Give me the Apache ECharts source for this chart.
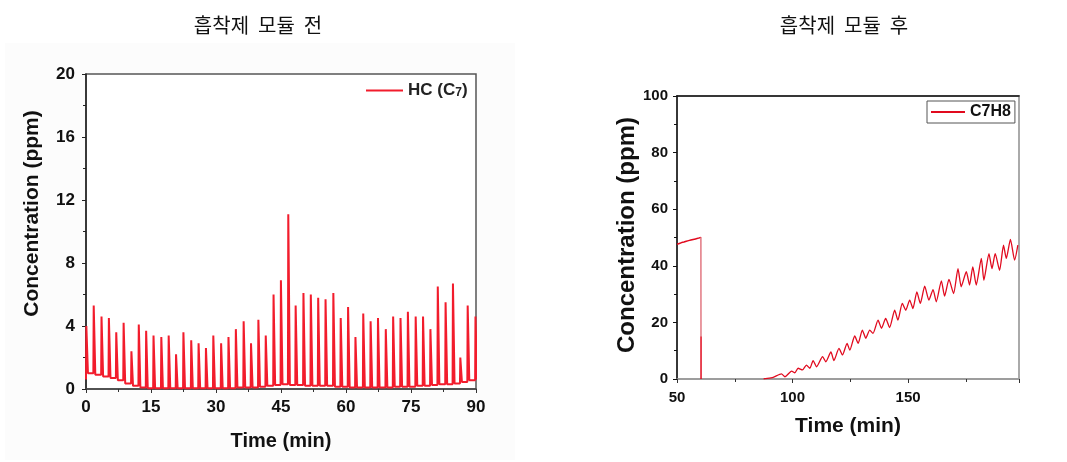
<!DOCTYPE html>
<html>
<head>
<meta charset="utf-8">
<title>흡착제 모듈 전/후</title>
<script src="https://cdn.jsdelivr.net/npm/echarts@6/dist/echarts.min.js"></script>
<style>
  html, body { margin: 0; padding: 0; background: #fff; }
  #chart { width: 1067px; height: 462px; }
</style>
</head>
<body>
<div id="chart"></div>
<script>
// 왼쪽: 흡착제 모듈 전 (HC C7), 피크 시각 / 피크 높이 / 피크 후 기저값
const leftPeakTimes = [
  0, 1.7, 3.5, 5.2, 6.9,
  8.6, 10.4, 12.1, 13.8, 15.5,
  17.3, 19.0, 20.7, 22.4, 24.2,
  25.9, 27.6, 29.3, 31.1, 32.8,
  34.5, 36.3, 38.0, 39.7, 41.4,
  43.2, 44.9, 46.6, 48.3, 50.1,
  51.8, 53.5, 55.2, 57.0, 58.7,
  60.4, 62.1, 63.9, 65.6, 67.3,
  69.1, 70.8, 72.5, 74.2, 76.0,
  77.7, 79.4, 81.1, 82.9, 84.6,
  86.3, 88.0, 89.8
]
const leftPeakHeights = [
  4.0, 5.3, 4.6, 4.5, 3.6,
  4.2, 2.4, 4.1, 3.7, 3.4,
  3.3, 3.4, 2.2, 3.6, 3.1,
  2.9, 2.6, 3.4, 2.9, 3.3,
  3.8, 4.3, 2.9, 4.4, 3.4,
  6.0, 6.9, 11.1, 5.3, 6.1,
  6.0, 5.8, 5.7, 6.1, 4.5,
  5.2, 3.3, 4.8, 4.3, 4.5,
  3.8, 4.6, 4.5, 4.9, 4.6,
  4.6, 3.8, 6.5, 5.5, 6.7,
  2.0, 5.3, 4.6
]
const leftBaseAfter = [
  1.0, 0.9, 0.8, 0.7, 0.55,
  0.35, 0.2, 0.1, 0.05, 0.05,
  0.05, 0.05, 0.05, 0.05, 0.05,
  0.05, 0.05, 0.05, 0.05, 0.05,
  0.1, 0.1, 0.1, 0.15, 0.2,
  0.25, 0.3, 0.25, 0.25, 0.2,
  0.2, 0.2, 0.2, 0.15, 0.15,
  0.1, 0.1, 0.1, 0.1, 0.1,
  0.1, 0.15, 0.15, 0.15, 0.2,
  0.2, 0.25, 0.3, 0.3, 0.35,
  0.45, 0.55, 0.6
]

// 오른쪽: 흡착제 모듈 후 (C7H8)
const rightFlatTime = [50, 51, 52, 53, 54, 55, 56, 57, 58, 59, 60.3, 60.4]
const rightFlatConc = [47.6, 47.9, 48.2, 48.4, 48.7, 48.9, 49.1, 49.3, 49.5, 49.7, 50.0, 15]
const rightDropTime = [60.4, 60.4]
const rightDropConc = [50.0, 15]
const rightRiseTime = [
  87.5, 88.0, 91.6, 95.2, 96.7, 99.6, 101.0, 102.4, 104.3, 106.0,
  107.5, 108.9, 110.4, 113.0, 114.4, 116.6, 117.9, 120.1, 121.6, 123.6,
  124.8, 126.9, 128.4, 130.2, 131.7, 133.4, 134.8, 137.0, 138.5, 140.3,
  142.0, 144.2, 145.6, 147.5, 149.0, 150.7, 152.1, 153.8, 155.3, 157.2,
  159.0, 160.8, 162.2, 164.4, 165.8, 167.7, 169.7, 171.6, 173.0, 175.2,
  176.6, 178.0, 179.5, 181.7, 182.8, 185.0, 186.3, 187.7, 189.6, 191.3,
  192.5, 194.3, 196.1, 197.5
]
const rightRiseConc = [
  0, 0.1, 0.6, 1.8, 0.8, 2.8, 2.2, 3.8, 3.2, 4.9,
  3.8, 6.5, 4.3, 7.9, 6.1, 9.6, 6.5, 10.8, 8.5, 12.6,
  10.2, 15.2, 12.6, 17.3, 14.4, 17.3, 16.1, 20.8, 17.9, 21.4,
  18.2, 24.3, 20.8, 26.7, 24.3, 27.9, 24.9, 30.8, 26.7, 32.8,
  27.9, 31.6, 27.3, 34.7, 29.3, 35.2, 30.2, 39.0, 32.6, 37.9,
  33.2, 39.6, 33.2, 42.6, 34.9, 44.3, 39.0, 44.3, 38.4, 47.3,
  42.6, 49.3, 42.0, 47.3
]

const leftPoints = []
leftPeakTimes.forEach((t, i) => {
  const before = i === 0 ? 0.6 : leftBaseAfter[i - 1]
  leftPoints.push([t, before], [t + 0.08, leftPeakHeights[i]], [t + 0.45, leftBaseAfter[i]])
})
const rightFlat = rightFlatTime.map((t, i) => [t, rightFlatConc[i]])
const rightDrop = rightDropTime.map((t, i) => [t, rightDropConc[i]])
const rightRise = rightRiseTime.map((t, i) => [t, rightRiseConc[i]])
// 수직 하강선 아래쪽 (15 -> 0)
rightFlat.push([60.4, 0])

const FONT = '"Liberation Sans", Arial, sans-serif'
const leftRed = '#f21c2c'
const rightRed = '#e10a1e'

const tickLabel = (size) => ({
  color: '#111', fontFamily: FONT, fontWeight: 'bold', fontSize: size
})
const titleStyle = { fontFamily: '"Noto Sans CJK KR"', fontSize: 20, fontWeight: 'normal', color: '#111' }

const chart = echarts.init(document.getElementById('chart'))

chart.setOption({
  animation: false,
  backgroundColor: '#fff',
  title: [
    { text: '흡착제  모듈  전', left: 253, top: 10, textAlign: 'center', textStyle: titleStyle },
    { text: '흡착제  모듈  후', left: 839, top: 10, textAlign: 'center', textStyle: titleStyle }
  ],
  graphic: [
    { type: 'rect', z: -10, shape: { x: 5, y: 43, width: 510, height: 417 }, style: { fill: '#fcfcfc' } }
  ],
  grid: [
    { left: 86, top: 74, width: 390, height: 315, show: true, backgroundColor: '#fff', borderColor: '#555', borderWidth: 1.5 },
    { left: 677, top: 96, width: 342, height: 283, show: true, backgroundColor: '#fff', borderColor: '#aaa', borderWidth: 2 }
  ],
  legend: [
    {
      data: ['HC (C7)'],
      left: 366, top: 82, padding: 0,
      icon: 'rect', itemWidth: 37, itemHeight: 2,
      formatter: () => 'HC (C{s|7})',
      textStyle: {
        ...tickLabel(17), color: '#222',
        rich: { s: { fontFamily: FONT, fontWeight: 'bold', fontSize: 12, color: '#222', lineHeight: 10, verticalAlign: 'bottom' } }
      }
    },
    {
      data: ['C7H8'],
      left: 927, top: 101,
      icon: 'rect', itemWidth: 34, itemHeight: 2,
      padding: [3, 4, 3, 4],
      borderColor: '#555', borderWidth: 1,
      textStyle: { ...tickLabel(16) }
    }
  ],
  xAxis: [
    {
      gridIndex: 0, type: 'value', min: 0, max: 90, interval: 15,
      name: 'Time (min)', nameLocation: 'middle', nameGap: 42,
      nameTextStyle: tickLabel(20),
      axisLine: { lineStyle: { color: '#444', width: 1.5 } },
      axisTick: { length: 4, lineStyle: { color: '#333' } },
      minorTick: { show: true, splitNumber: 2, length: 3, lineStyle: { color: '#333' } },
      axisLabel: { ...tickLabel(17), margin: 10 },
      splitLine: { show: false }
    },
    {
      gridIndex: 1, type: 'value', min: 50, max: 198, interval: 50,
      name: 'Time (min)', nameLocation: 'middle', nameGap: 37,
      nameTextStyle: tickLabel(21),
      axisLine: { lineStyle: { color: '#999', width: 1.5 } },
      axisTick: { length: 4, lineStyle: { color: '#333' } },
      minorTick: { show: true, splitNumber: 2, length: 3, lineStyle: { color: '#333' } },
      axisLabel: { ...tickLabel(15), margin: 11, showMaxLabel: false },
      splitLine: { show: false }
    },
    {
      gridIndex: 1, type: 'value', min: 50, max: 198, position: 'top',
      axisLine: { lineStyle: { color: '#111', width: 1.5 } },
      axisTick: { show: false }, axisLabel: { show: false }, splitLine: { show: false }
    }
  ],
  yAxis: [
    {
      gridIndex: 0, type: 'value', min: 0, max: 20, interval: 4,
      name: 'Concentration (ppm)', nameLocation: 'middle', nameGap: 43,
      nameTextStyle: { ...tickLabel(21), padding: [0, 0, 0, 36] },
      axisLine: { show: true, lineStyle: { color: '#222', width: 1.5 } },
      axisTick: { show: true, length: 4, lineStyle: { color: '#222' } },
      minorTick: { show: true, splitNumber: 2, length: 3, lineStyle: { color: '#222' } },
      axisLabel: { ...tickLabel(17), margin: 11 },
      splitLine: { show: false }
    },
    {
      gridIndex: 1, type: 'value', min: 0, max: 100, interval: 20,
      name: 'Concentration (ppm)', nameLocation: 'middle', nameGap: 37,
      nameTextStyle: { ...tickLabel(24), padding: [0, 0, 0, 5] },
      axisLine: { show: true, lineStyle: { color: '#111', width: 1.5 } },
      axisTick: { show: true, length: 4, lineStyle: { color: '#111' } },
      minorTick: { show: true, splitNumber: 2, length: 3, lineStyle: { color: '#111' } },
      axisLabel: { ...tickLabel(15), margin: 9 },
      splitLine: { show: false }
    }
  ],
  series: [
    {
      name: 'HC (C7)', type: 'line', xAxisIndex: 0, yAxisIndex: 0,
      data: leftPoints, showSymbol: false, symbol: 'none',
      lineStyle: { color: leftRed, width: 2 }, itemStyle: { color: leftRed }
    },
    {
      name: 'C7H8', type: 'line', xAxisIndex: 1, yAxisIndex: 1,
      data: rightFlat, showSymbol: false, symbol: 'none',
      lineStyle: { color: rightRed, width: 1.5 }, itemStyle: { color: rightRed }
    },
    {
      name: 'drop', type: 'line', xAxisIndex: 1, yAxisIndex: 1, z: 3,
      data: rightDrop, showSymbol: false, symbol: 'none',
      lineStyle: { color: '#e9b7bb', width: 1.5 }
    },
    {
      name: 'C7H8', type: 'line', xAxisIndex: 1, yAxisIndex: 1,
      data: rightRise, showSymbol: false, symbol: 'none', smooth: 0.2,
      lineStyle: { color: rightRed, width: 1.3 }, itemStyle: { color: rightRed }
    }
  ]
})
</script>
</body>
</html>
